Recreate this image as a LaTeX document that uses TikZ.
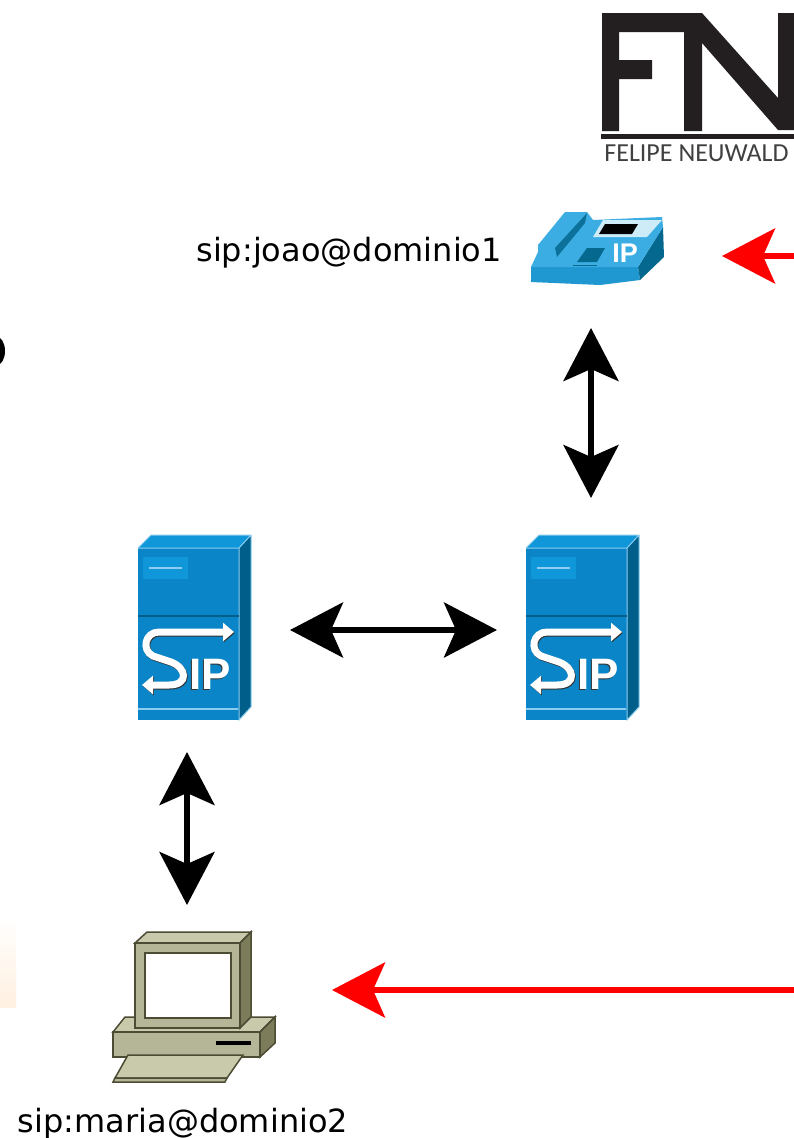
\documentclass[tikz,border=0pt]{standalone}
\usepackage{fontspec}
\setmainfont{DejaVu Sans}
\newfontfamily\ipfont{Liberation Sans}
\newfontfamily\logofont{Carlito}
\usetikzlibrary{arrows.meta, positioning}

\definecolor{phonetop}{HTML}{3BADE2}
\definecolor{phonefront}{HTML}{1F97D0}
\definecolor{phoneside}{HTML}{04688F}
\definecolor{srvfront}{HTML}{0A85C7}
\definecolor{srvtop}{HTML}{0F97D9}
\definecolor{srvside}{HTML}{005F8A}
\definecolor{srvedge}{HTML}{8CCDF0}
\definecolor{pclight}{HTML}{C9C9AC}
\definecolor{pcmid}{HTML}{B5B597}
\definecolor{pcdark}{HTML}{7C7C5A}
\definecolor{pcline}{HTML}{4C4C34}
\definecolor{logoblack}{HTML}{231F20}

\newcommand{\sipcurve}{(95,92) -- (20,92) .. controls (6,92) and (2,110) .. (14,116)
      -- (32,122) .. controls (48,128) and (50,145) .. (30,145) -- (3,145)}

\tikzset{
  iconbox/.style={inner sep=0pt, outer sep=0pt},
  userlabel/.style={inner sep=0pt, font=\fontsize{32}{32}\selectfont, text=black},
  linkarrow/.style={line width=6pt, {Stealth[length=53pt,width=55pt,inset=12pt]}-{Stealth[length=53pt,width=55pt,inset=12pt]}},
  callarrow/.style={line width=6pt, red, -{Stealth[length=53pt,width=55pt,inset=12pt]}},
  sipletters/.style={inner sep=0pt, font=\ipfont\bfseries\fontsize{44}{44}\selectfont},
  sipcurve/.style={line width=7pt, {Triangle[length=11pt,width=18pt]}-{Triangle[length=11pt,width=18pt]}},
  sipserver/.pic={
    \fill[srvtop] (-1,8) -- (12,-5) -- (112,-5) -- (100,8) -- cycle;
    \fill[srvside] (100,8) -- (112,-5) -- (112,167) -- (100,180) -- cycle;
    \fill[srvfront] (-1,8) rectangle (100,180);
    \draw[srvedge, line width=1pt] (-1,8) -- (12,-5) -- (112,-5) -- (112,167) -- (100,180) -- (100,8) -- (-1,8) (100,8) -- (112,-5);
    \fill[srvtop] (4,17) rectangle (49,39);
    \draw[srvedge, line width=2.5pt] (10,28) -- (43,28);
    \draw[srvside, line width=2.5pt] (-1,76) -- (100,76);
    \draw[srvedge, line width=1.5pt] (-1,169) -- (99,169);
    \draw[black!80, sipcurve, shift={(0.8,1)}] \sipcurve;
    \draw[white, sipcurve] \sipcurve;
    \node[sipletters, black!80] (-ipshadow) at (70,135) {IP};
    \node[sipletters, white] (-ip) at (71,134) {IP};
  },
  ipphone/.pic={
    \fill[phonefront] (1,57) -- (108,57) -- (110,70) -- (70,75) -- (1,72) -- cycle;
    \fill[phoneside] (108,57) -- (133,17) -- (134,47) -- (110,70) -- cycle;
    \fill[phonetop] (1,57) -- (8,42) -- (8,35) -- (35,2) -- (57,2) -- (63,10) -- (132,7) -- (133,17) -- (108,57) -- cycle;
    \fill[phoneside!85!phonetop] (57,3) -- (55,13) -- (27,47) -- (25,38) -- cycle;
    \fill[white!75!phonetop] (73,10) -- (132,10) -- (117,27) -- (63,27) -- cycle;
    \fill[black] (75,14) -- (108,14) -- (102,24) -- (69,24) -- cycle;
    \fill[phoneside] (57,38) -- (75,38) -- (67,52) -- (47,52) -- cycle;
    \draw[phoneside, line width=1pt] (43,55) -- (67,55);
    \node[white, inner sep=0pt, font=\ipfont\bfseries\fontsize{27}{27}\selectfont] (-ip) at (95,43) {IP};
  },
  userpc/.pic={
    \begin{scope}[draw=pcline, line width=1.5pt]
      \filldraw[fill=pclight] (1,100) -- (13,85) -- (163,85) -- (148,100) -- cycle;
      \filldraw[fill=pcdark] (148,100) -- (163,85) -- (163,111) -- (148,125) -- cycle;
      \filldraw[fill=pcmid] (1,100) rectangle (148,125);
      \filldraw[fill=pclight] (23,11) -- (35,0) -- (139,0) -- (128,11) -- cycle;
      \filldraw[fill=pcdark] (128,11) -- (139,0) -- (139,85) -- (128,96) -- cycle;
      \filldraw[fill=pcmid] (23,11) rectangle (128,96);
      \filldraw[fill=white] (33,21) rectangle (119,86);
      \filldraw[fill=pclight] (16,123) -- (131,123) -- (115,146) -- (3,146) -- cycle;
      \filldraw[fill=pcmid] (3,146) -- (115,146) -- (113,150) -- (1,150) -- cycle;
    \end{scope}
    \draw[black, line width=4pt] (104,111) -- (139,111);
  }
}

\begin{document}
\begin{tikzpicture}[x=1pt, y=-1pt]
  \useasboundingbox (0,0) rectangle (794,1138);
  \clip (0,0) rectangle (794,1138);
  \fill[white] (0,0) rectangle (794,1138);

  % leftovers at the left edge
  \shade[top color=white, bottom color=orange!12] (0,915) rectangle (16,1007);
  \fill[black] (-3,351) ellipse [x radius=8, y radius=14];

  % logo
  \fill[logoblack] (602,13) -- (702,13) -- (702,131) -- (684,131) -- (684,32) -- (619,32) -- (619,60)
    -- (652,60) -- (652,79) -- (619,79) -- (619,131) -- (602,131) -- cycle;
  \fill[logoblack] (702,13) -- (778,98) -- (778,13) -- (794,13) -- (794,130) -- (778,130) -- (702,43) -- cycle;
  \fill[logoblack] (601,134) rectangle (794,139);
  \node[inner sep=0pt, text=black!75, font=\logofont\fontsize{26}{26}\selectfont] (logotext) at (696.5,153.5) {FELIPE NEUWALD};

  \node[iconbox, minimum width=122pt, minimum height=92pt] (phone) at (591,256) {};
  \node[iconbox, minimum width=128pt, minimum height=180pt] (srvb) at (591,630) {};
  \node[iconbox, minimum width=96pt, minimum height=180pt] (srva) at (187,630) {};
  \node[iconbox, minimum width=150pt, minimum height=116pt] (pc) at (187,990) {};
  \node[userlabel, left=28pt of phone, yshift=3pt] (phonelabel) {sip:joao@dominio1};
  \node[userlabel, below=60pt of pc, xshift=-4pt] (pclabel) {sip:maria@dominio2};
  \coordinate (edgeup) at (794,256);
  \coordinate (edgedown) at (794,990);

  \pic at (phone.north west) {ipphone};
  \pic at (srvb.north west) {sipserver};
  \pic at (srva.north west) {sipserver};
  \pic at (pc.north west) {userpc};

  \draw[linkarrow, shorten <=26pt, shorten >=42pt] (phone.south) -- (srvb.north);
  \draw[linkarrow, shorten <=55pt, shorten >=30pt] (srva.east) -- (srvb.west);
  \draw[linkarrow, shorten <=32pt, shorten >=27pt] (srva.south) -- (pc.north);
  \draw[callarrow, shorten >=70pt] (edgeup) -- (phone.east);
  \draw[callarrow, shorten >=70pt] (edgedown) -- (pc.east);
\end{tikzpicture}
\end{document}
